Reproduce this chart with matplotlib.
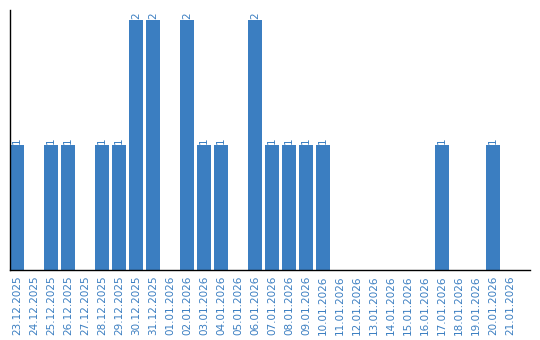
import matplotlib.pyplot as plt
import numpy as np

dates = ['23.12.2025', '24.12.2025', '25.12.2025', '26.12.2025', '27.12.2025',
         '28.12.2025', '29.12.2025', '30.12.2025', '31.12.2025', '01.01.2026',
         '02.01.2026', '03.01.2026', '04.01.2026', '05.01.2026', '06.01.2026',
         '07.01.2026', '08.01.2026', '09.01.2026', '10.01.2026', '11.01.2026',
         '12.01.2026', '13.01.2026', '14.01.2026', '15.01.2026', '16.01.2026',
         '17.01.2026', '18.01.2026', '19.01.2026', '20.01.2026', '21.01.2026']
counts = [1, 0, 1, 1, 0, 1, 1, 2, 2, 0,
          2, 1, 1, 0, 2, 1, 1, 1, 1, 0,
          0, 0, 0, 0, 0, 1, 0, 0, 1, 0]

blue = '#3b7ec1'

fig = plt.figure(figsize=(5.4, 3.4), dpi=100)
ax = fig.add_axes([10 / 540, 70 / 340, 520 / 540, 260 / 340])

x = np.arange(len(dates))
width = 14 / 17
ax.bar(x, counts, width=width, color=blue)

for xi, c in zip(x, counts):
    if c > 0:
        ax.text(xi, c + 0.01, str(c), rotation=90, ha='center', va='bottom',
                color=blue, fontsize=7.5)

ax.set_xlim(-width / 2, -width / 2 + 520 / 17)
ax.set_ylim(0, 2.08)
ax.set_xticks(x)
ax.set_xticklabels(dates, rotation=90, color=blue, fontsize=7.5)
ax.tick_params(axis='x', length=0, pad=4)
ax.set_yticks([])

for side in ['top', 'right']:
    ax.spines[side].set_visible(False)
ax.spines['left'].set_linewidth(1)
ax.spines['bottom'].set_linewidth(1)

fig.savefig('out.png', dpi=100)
